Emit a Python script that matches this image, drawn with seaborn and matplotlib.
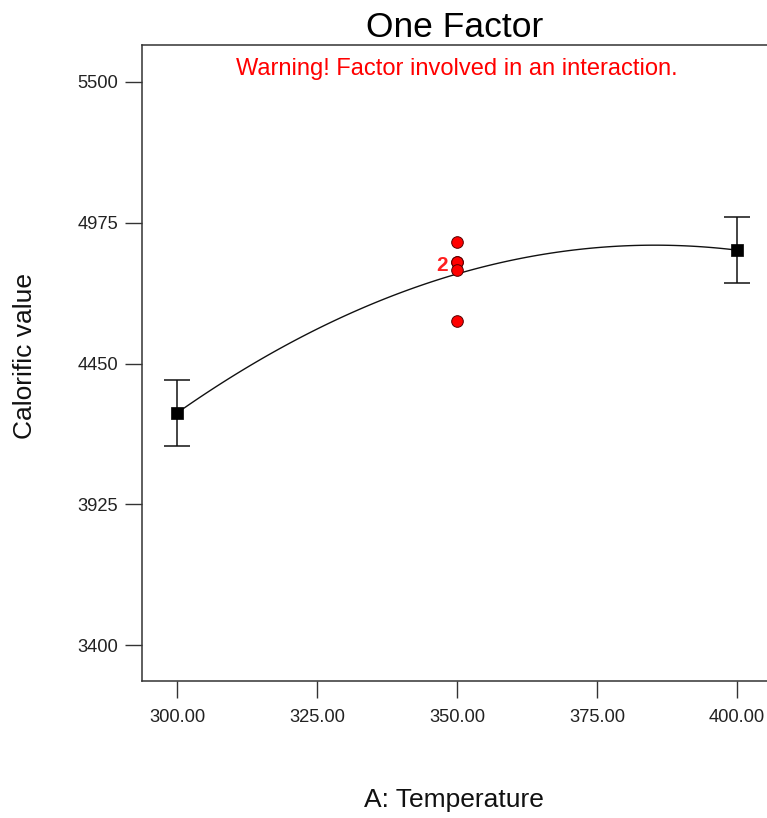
import numpy as np
import pandas as pd
import matplotlib
matplotlib.use("Agg")
import matplotlib.pyplot as plt
import seaborn as sns

# ---- data ----
factor_levels = [300.0, 350.0, 400.0]
predicted_means = [4266, 4784, 4873]          # model prediction at each level
ci_half_width = [124, 0, 124]                  # error bar half-widths (shown at ends)
design_x = [350.0, 350.0, 350.0, 350.0, 350.0]
design_y = [4903, 4830, 4830, 4799, 4610]      # observed center points (one duplicated)
dup_label_x, dup_label_y, dup_label_text = 348.4, 4814, "2"
x_ticks = [300.0, 325.0, 350.0, 375.0, 400.0]
y_ticks = [3400, 3925, 4450, 4975, 5500]

sns.set_theme(style="white")
plt.rcParams['font.family'] = ['Liberation Sans', 'DejaVu Sans']

W, H = 767, 818
fig = plt.figure(figsize=(W / 100, H / 100), dpi=100)
ax_l, ax_r, ax_t, ax_b = 142, 770.3, 45, 680.5
ax = fig.add_axes([ax_l / W, 1 - ax_b / H, (ax_r - ax_l) / W, (ax_b - ax_t) / H])

means_df = pd.DataFrame({"A": factor_levels, "y": predicted_means})
pts_df = pd.DataFrame({"A": design_x, "y": design_y})

# fitted quadratic curve
sns.regplot(data=means_df, x="A", y="y", order=2, ci=None, scatter=False,
            truncate=True, line_kws=dict(color="#111111", lw=1.0), ax=ax)

# error bars at factor ends
ends = [0, 2]
ax.errorbar([factor_levels[i] for i in ends], [predicted_means[i] for i in ends],
            yerr=[ci_half_width[i] for i in ends], fmt="none", ecolor="#111111",
            elinewidth=1.1, capsize=9.5, capthick=1.1, zorder=3)
# squares
end_df = means_df.iloc[ends]
sns.scatterplot(data=end_df, x="A", y="y", marker="s", s=85, color="black",
                edgecolor="black", linewidth=0.5, zorder=4, ax=ax)
# red design points
sns.scatterplot(data=pts_df, x="A", y="y", marker="o", s=70, color="#ff0000",
                edgecolor="#550000", linewidth=0.7, zorder=5, ax=ax)
ax.text(dup_label_x, dup_label_y, dup_label_text, color="#ff2020", fontsize=15,
        fontweight="bold", ha="right", va="center", zorder=6)

ax.set_xlim(293.7, 406.0)
ax.set_ylim(3267.6, 5638)
ax.set_xticks(x_ticks)
ax.set_xticklabels([f"{v:.2f}" for v in x_ticks])
ax.set_yticks(y_ticks)
ax.set_yticklabels([str(v) for v in y_ticks])

ax.tick_params(axis="both", direction="out", length=12.2, width=1.0,
               color="#333333", labelsize=13.2, labelcolor="#222222", pad=5,
               bottom=True, left=True, top=False, right=False)
ax.tick_params(axis="x", pad=8)
for s in ax.spines.values():
    s.set_color("#333333")
    s.set_linewidth(1.1)

ax.set_xlabel("A: Temperature", fontsize=19, color="#111111", va="center")
ax.xaxis.set_label_coords((454 - ax_l) / (ax_r - ax_l), (ax_b - 800) / (ax_b - ax_t))
ax.set_ylabel("Calorific value", fontsize=19, color="#111111", va="center")
ax.yaxis.set_label_coords((25 - ax_l) / (ax_r - ax_l), (ax_b - 356) / (ax_b - ax_t))

ax.set_title("One Factor", fontsize=25.5, color="black", pad=6,
             x=(455 - ax_l) / (ax_r - ax_l))
ax.text((457 - ax_l) / (ax_r - ax_l), (ax_b - 69) / (ax_b - ax_t),
        "Warning! Factor involved in an interaction.", color="#ff0000",
        fontsize=17, ha="center", va="center", transform=ax.transAxes)

fig.savefig("out.png", dpi=100)
